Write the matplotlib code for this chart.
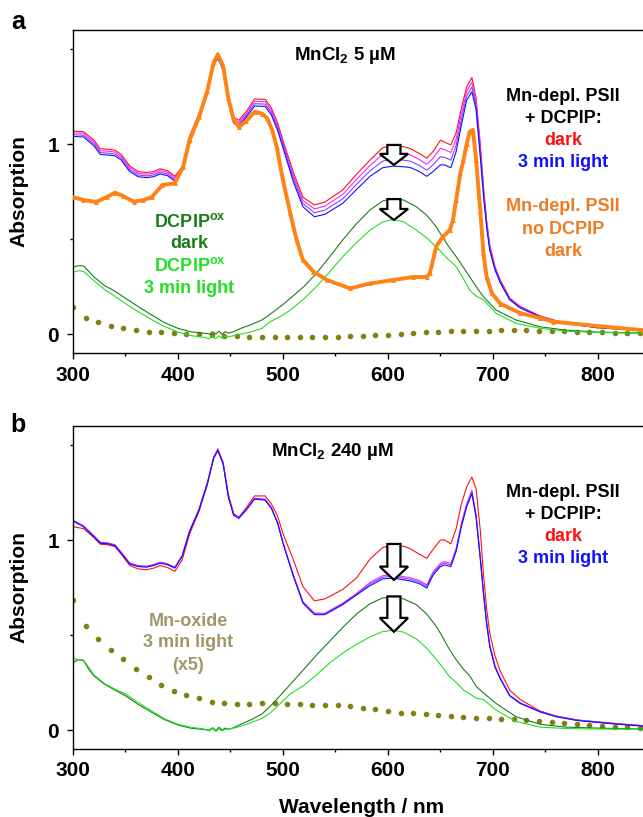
import numpy as np
import matplotlib
matplotlib.use("Agg")
import matplotlib.pyplot as plt
from matplotlib.patches import FancyArrow
from matplotlib.ticker import MultipleLocator

plt.rcParams['font.family'] = ['Liberation Sans', 'DejaVu Sans']
plt.rcParams['font.weight'] = 'bold'
plt.rcParams['axes.labelweight'] = 'bold'
plt.rcParams['mathtext.fontset'] = 'custom'
plt.rcParams['mathtext.rm'] = 'Liberation Sans:bold'
plt.rcParams['mathtext.bf'] = 'Liberation Sans:bold'
plt.rcParams['mathtext.it'] = 'Liberation Sans:bold:italic'

# ---- wavelength grids (nm) ----
wl_psii = [300, 310, 320, 326, 333, 340, 346, 354, 362, 370,
           377, 383, 390, 397, 404, 411, 420, 428, 434, 438,
           443, 448, 453, 458, 465, 473, 483, 489, 495, 500,
           510, 519, 530, 540, 557, 570, 583, 595, 605, 615,
           621, 630, 637, 643, 650, 654, 660, 665, 670, 675,
           680, 684, 688, 691, 694, 697, 702, 707, 716, 726,
           745, 760, 780, 800, 820, 843]

wl_green = [300, 305, 310, 315, 320, 330, 340, 350, 362, 375,
            387, 400, 412, 425, 430, 433, 436, 439, 442, 445,
            448, 452, 460, 470, 480, 488, 500, 507, 520, 532,
            545, 557, 570, 583, 595, 605, 615, 627, 637, 646,
            652, 658, 665, 672, 678, 684, 691, 703, 722, 745,
            770, 800, 843]

wl_nodcpip = [300, 310, 322, 332, 340, 348, 358, 367, 375, 385,
              397, 405, 411, 420, 428, 434, 438, 443, 448, 453,
              458, 465, 473, 480, 485, 490, 494, 500, 507, 513,
              519, 529, 542, 564, 583, 605, 624, 637, 640, 646,
              652, 659, 662, 665, 669, 672, 675, 678, 681, 684,
              688, 691, 694, 699, 707, 726, 745, 757, 800, 843]

wl_dots = np.arange(300, 841, 12)

# ---- panel a: MnCl2 5 uM ----
a_dark = [1.068, 1.065, 1.02, 0.975, 0.972, 0.968, 0.945, 0.885, 0.855, 0.85,
          0.855, 0.87, 0.86, 0.83, 0.88, 1.04, 1.16, 1.29, 1.44, 1.48,
          1.42, 1.25, 1.14, 1.125, 1.17, 1.237, 1.235, 1.19, 1.11, 1.02,
          0.85, 0.72, 0.679, 0.695, 0.758, 0.84, 0.916, 0.98, 0.995, 0.985,
          0.977, 0.95, 0.925, 0.96, 1.02, 1.01, 0.995, 1.06, 1.19, 1.30,
          1.35, 1.24, 1.0, 0.78, 0.6, 0.47, 0.355, 0.285, 0.19, 0.145,
          0.095, 0.07, 0.05, 0.035, 0.028, 0.02]
a_1min = [1.059, 1.056, 1.01, 0.965, 0.962, 0.958, 0.935, 0.875, 0.846, 0.841,
          0.846, 0.861, 0.851, 0.822, 0.872, 1.032, 1.152, 1.282, 1.432, 1.47,
          1.41, 1.24, 1.13, 1.115, 1.16, 1.225, 1.223, 1.177, 1.097, 1.007,
          0.833, 0.703, 0.658, 0.673, 0.735, 0.813, 0.887, 0.945, 0.958, 0.95,
          0.944, 0.918, 0.893, 0.925, 0.977, 0.97, 0.955, 1.027, 1.16, 1.277,
          1.325, 1.22, 0.977, 0.763, 0.588, 0.46, 0.349, 0.28, 0.187, 0.142,
          0.093, 0.069, 0.049, 0.034, 0.027, 0.019]
a_2min = [1.049, 1.046, 1.0, 0.955, 0.952, 0.948, 0.925, 0.865, 0.837, 0.832,
          0.837, 0.852, 0.842, 0.813, 0.863, 1.023, 1.143, 1.273, 1.423, 1.46,
          1.40, 1.23, 1.12, 1.105, 1.15, 1.212, 1.21, 1.165, 1.083, 0.993,
          0.817, 0.687, 0.638, 0.652, 0.711, 0.787, 0.859, 0.91, 0.921, 0.915,
          0.91, 0.887, 0.862, 0.89, 0.933, 0.93, 0.915, 0.993, 1.13, 1.253,
          1.30, 1.20, 0.953, 0.747, 0.577, 0.45, 0.343, 0.275, 0.183, 0.14,
          0.092, 0.067, 0.048, 0.034, 0.027, 0.019]
a_3min = [1.04, 1.037, 0.99, 0.945, 0.942, 0.938, 0.915, 0.855, 0.828, 0.823,
          0.828, 0.843, 0.833, 0.805, 0.855, 1.015, 1.135, 1.265, 1.415, 1.45,
          1.39, 1.22, 1.11, 1.095, 1.14, 1.2, 1.198, 1.152, 1.07, 0.98,
          0.80, 0.67, 0.617, 0.63, 0.688, 0.76, 0.83, 0.875, 0.884, 0.88,
          0.877, 0.855, 0.83, 0.855, 0.89, 0.89, 0.875, 0.96, 1.10, 1.23,
          1.275, 1.18, 0.93, 0.73, 0.565, 0.44, 0.337, 0.27, 0.18, 0.137,
          0.09, 0.066, 0.047, 0.033, 0.026, 0.018]
a_nodcpip = [0.72, 0.705, 0.695, 0.72, 0.744, 0.725, 0.696, 0.705, 0.72, 0.784,
             0.794, 0.88, 1.02, 1.14, 1.28, 1.43, 1.47, 1.41, 1.24, 1.13,
             1.09, 1.12, 1.17, 1.16, 1.135, 1.07, 0.986, 0.81, 0.635, 0.495,
             0.39, 0.328, 0.284, 0.24, 0.266, 0.284, 0.30, 0.30, 0.32, 0.46,
             0.51, 0.547, 0.60, 0.705, 0.847, 0.916, 1.0, 1.065, 1.074, 0.916,
             0.65, 0.425, 0.30, 0.215, 0.16, 0.11, 0.084, 0.065, 0.042, 0.02]
a_dcpip_dark = [0.351, 0.36, 0.358, 0.33, 0.30, 0.255, 0.225, 0.188, 0.145, 0.1,
                0.06, 0.03, 0.012, 0.004, 0.0, 0.012, 0.0, 0.015, -0.002, 0.012,
                0.005, 0.01, 0.03, 0.05, 0.074, 0.105, 0.155, 0.188, 0.25, 0.32,
                0.41, 0.495, 0.58, 0.653, 0.70, 0.714, 0.705, 0.67, 0.625, 0.565,
                0.51, 0.46, 0.407, 0.35, 0.30, 0.25, 0.196, 0.126, 0.074, 0.038,
                0.02, 0.01, 0.005]
a_dcpip_light = [0.325, 0.333, 0.33, 0.305, 0.28, 0.235, 0.198, 0.16, 0.118, 0.075,
                 0.04, 0.01, -0.008, -0.018, -0.025, -0.012, -0.025, -0.01, -0.022, -0.012,
                 -0.015, -0.01, 0.0, 0.012, 0.03, 0.065, 0.1, 0.126, 0.185, 0.25,
                 0.33, 0.407, 0.48, 0.547, 0.59, 0.603, 0.59, 0.547, 0.505, 0.46,
                 0.425, 0.39, 0.355, 0.29, 0.23, 0.2, 0.18, 0.109, 0.056, 0.03,
                 0.015, 0.008, 0.004]
a_dots = [0.14, 0.086, 0.062, 0.042, 0.031, 0.021, 0.012, 0.01, 0.005, 0.0,
          -0.002, -0.005, -0.008, -0.01, -0.014, -0.016, -0.017, -0.018, -0.018, -0.018,
          -0.017, -0.014, -0.012, -0.01, -0.006, -0.005, -0.002, 0.003, 0.008, 0.012,
          0.015, 0.016, 0.016, 0.018, 0.02, 0.021, 0.021, 0.018, 0.016, 0.014,
          0.012, 0.01, 0.008, 0.006, 0.004, 0.003]

# ---- panel b: MnCl2 240 uM ----
b_dark = [1.07, 1.06, 1.012, 0.978, 0.975, 0.965, 0.925, 0.866, 0.848, 0.843,
          0.852, 0.866, 0.855, 0.835, 0.895, 1.03, 1.15, 1.29, 1.435, 1.48,
          1.41, 1.24, 1.14, 1.12, 1.17, 1.232, 1.232, 1.19, 1.125, 1.034,
          0.895, 0.755, 0.68, 0.69, 0.74, 0.80, 0.90, 0.96, 0.975, 0.967,
          0.955, 0.925, 0.904, 0.95, 1.0, 1.0, 0.98, 1.06, 1.19, 1.279,
          1.331, 1.27, 1.05, 0.82, 0.64, 0.51, 0.39, 0.31, 0.21, 0.16,
          0.10, 0.074, 0.053, 0.04, 0.03, 0.023]
b_1min = [1.105, 1.075, 1.022, 0.988, 0.985, 0.975, 0.935, 0.879, 0.865, 0.862,
          0.871, 0.883, 0.875, 0.857, 0.918, 1.048, 1.162, 1.302, 1.435, 1.475,
          1.405, 1.232, 1.135, 1.119, 1.162, 1.22, 1.215, 1.171, 1.092, 0.988,
          0.816, 0.676, 0.615, 0.615, 0.668, 0.718, 0.777, 0.812, 0.817, 0.807,
          0.802, 0.787, 0.764, 0.832, 0.877, 0.886, 0.877, 0.957, 1.087, 1.191,
          1.261, 1.13, 0.91, 0.73, 0.57, 0.45, 0.34, 0.273, 0.183, 0.143,
          0.098, 0.073, 0.053, 0.043, 0.033, 0.023]
b_2min = [1.102, 1.072, 1.02, 0.986, 0.983, 0.973, 0.933, 0.877, 0.863, 0.86,
          0.869, 0.881, 0.873, 0.855, 0.916, 1.046, 1.16, 1.3, 1.433, 1.473,
          1.403, 1.23, 1.133, 1.117, 1.16, 1.218, 1.213, 1.169, 1.09, 0.986,
          0.812, 0.672, 0.611, 0.611, 0.664, 0.714, 0.769, 0.804, 0.809, 0.799,
          0.794, 0.779, 0.756, 0.824, 0.869, 0.878, 0.869, 0.949, 1.079, 1.183,
          1.253, 1.125, 0.905, 0.725, 0.565, 0.445, 0.335, 0.272, 0.182, 0.142,
          0.097, 0.072, 0.052, 0.042, 0.032, 0.022]
b_3min = [1.10, 1.07, 1.017, 0.983, 0.98, 0.97, 0.93, 0.874, 0.86, 0.857,
          0.866, 0.878, 0.87, 0.852, 0.913, 1.043, 1.157, 1.297, 1.43, 1.47,
          1.40, 1.227, 1.13, 1.114, 1.157, 1.215, 1.21, 1.166, 1.087, 0.983,
          0.808, 0.668, 0.607, 0.607, 0.66, 0.71, 0.76, 0.795, 0.80, 0.79,
          0.785, 0.77, 0.747, 0.815, 0.86, 0.869, 0.86, 0.94, 1.07, 1.174,
          1.244, 1.12, 0.90, 0.72, 0.56, 0.44, 0.33, 0.27, 0.18, 0.14,
          0.095, 0.07, 0.05, 0.04, 0.03, 0.02]
b_dcpip_dark = [0.354, 0.37, 0.365, 0.32, 0.284, 0.241, 0.21, 0.18, 0.135, 0.093,
                0.055, 0.026, 0.01, 0.002, 0.0, 0.012, -0.002, 0.014, 0.0, 0.01,
                0.004, 0.01, 0.03, 0.055, 0.084, 0.125, 0.197, 0.24, 0.32, 0.395,
                0.47, 0.54, 0.61, 0.665, 0.695, 0.70, 0.69, 0.66, 0.61, 0.546,
                0.49, 0.43, 0.37, 0.32, 0.285, 0.23, 0.195, 0.14, 0.07, 0.03,
                0.015, 0.01, 0.005]
b_dcpip_light = [0.375, 0.372, 0.368, 0.33, 0.29, 0.245, 0.215, 0.19, 0.145, 0.1,
                 0.06, 0.03, 0.015, 0.005, -0.005, 0.008, -0.008, 0.005, -0.005, 0.004,
                 0.006, 0.008, 0.02, 0.04, 0.061, 0.09, 0.153, 0.19, 0.235, 0.29,
                 0.355, 0.405, 0.45, 0.49, 0.518, 0.525, 0.515, 0.48, 0.43, 0.372,
                 0.33, 0.285, 0.25, 0.21, 0.19, 0.168, 0.16, 0.105, 0.045, 0.015,
                 0.008, 0.005, 0.004]
b_mnoxide = [0.686, 0.55, 0.48, 0.42, 0.372, 0.323, 0.279, 0.237, 0.206, 0.185,
             0.166, 0.15, 0.141, 0.139, 0.139, 0.14, 0.141, 0.139, 0.136, 0.134,
             0.133, 0.131, 0.124, 0.117, 0.11, 0.101, 0.092, 0.087, 0.082, 0.079,
             0.072, 0.066, 0.063, 0.061, 0.058, 0.056, 0.052, 0.049, 0.044, 0.037,
             0.031, 0.026, 0.023, 0.017, 0.014, 0.009]

RED, MAG, PUR, BLUE = '#ff1010', '#ff22ff', '#8844ff', '#1010ff'
DKGREEN, LTGREEN = '#1a7d1a', '#22e022'
ORANGE, OLIVE, KHAKI = '#ff8214', '#857f12', '#a0966a'
ORANGE_TXT = '#f07a22'

fig = plt.figure(figsize=(6.43, 8.17), dpi=100)
ax_a = fig.add_axes([73 / 643, 1 - 353 / 817, 570 / 643, 323 / 817])
ax_b = fig.add_axes([73 / 643, 1 - 749 / 817, 570 / 643, 323 / 817])


def style_axes(ax):
    ax.set_xlim(300, 843)
    ax.set_ylim(-0.1, 1.6)
    ax.xaxis.set_major_locator(MultipleLocator(100))
    ax.xaxis.set_minor_locator(MultipleLocator(50))
    ax.yaxis.set_major_locator(MultipleLocator(1))
    ax.yaxis.set_minor_locator(MultipleLocator(0.5))
    ax.spines['right'].set_visible(False)
    for s in ['left', 'bottom', 'top']:
        ax.spines[s].set_linewidth(1.0)
    ax.tick_params(which='major', direction='out', length=4, width=1.0,
                   labelsize=15, pad=5)
    ax.tick_params(which='minor', direction='out', length=2.5, width=1.0)
    ax.tick_params(axis='y', which='major', pad=6)
    ax.tick_params(top=False, right=False, which='both')
    ax.set_ylabel('Absorption', fontsize=15)
    ax.yaxis.set_label_coords(-0.078, 0.5)


def draw_psii(ax, dark, m1, m2, m3):
    ax.plot(wl_psii, dark, color=RED, lw=0.8)
    ax.plot(wl_psii, m1, color=MAG, lw=0.8)
    ax.plot(wl_psii, m2, color=PUR, lw=0.8)
    ax.plot(wl_psii, m3, color=BLUE, lw=0.8)


def down_arrow(ax, x, top, tip, head_len):
    ax.add_patch(FancyArrow(x, top, 0, tip - top, width=12.5, head_width=27,
                            head_length=head_len, length_includes_head=True,
                            fc='white', ec='black', lw=1.6, zorder=6))


def psii_legend(ax):
    x = 767
    ax.text(x, 1.249, 'Mn-depl. PSII', ha='center', va='center', fontsize=13)
    ax.text(x, 1.135, '+ DCPIP:', ha='center', va='center', fontsize=13)
    ax.text(x, 1.02, 'dark', ha='center', va='center', fontsize=13, color=RED)
    ax.text(x, 0.905, '3 min light', ha='center', va='center', fontsize=13, color=BLUE)


# ---- panel a ----
style_axes(ax_a)
ax_a.plot(wl_dots, a_dots, 'o', color=OLIVE, ms=4.0, mec='none')
ax_a.plot(wl_green, a_dcpip_dark, color=DKGREEN, lw=0.8)
ax_a.plot(wl_green, a_dcpip_light, color=LTGREEN, lw=0.8)
draw_psii(ax_a, a_dark, a_1min, a_2min, a_3min)
ax_a.plot(wl_nodcpip, a_nodcpip, color=ORANGE, lw=2.8, marker='^', ms=3.5,
          mec='none', zorder=4)
down_arrow(ax_a, 605.7, 0.995, 0.89, 0.058)
down_arrow(ax_a, 605.7, 0.71, 0.60, 0.058)
ax_a.text(559, 1.468, r'MnCl$_2$ 5 µM', ha='center', va='center', fontsize=13.5)
psii_legend(ax_a)
ax_a.text(767, 0.67, 'Mn-depl. PSII', ha='center', va='center', fontsize=13, color=ORANGE_TXT)
ax_a.text(767, 0.55, 'no DCPIP', ha='center', va='center', fontsize=13, color=ORANGE_TXT)
ax_a.text(767, 0.433, 'dark', ha='center', va='center', fontsize=13, color=ORANGE_TXT)
ax_a.text(411, 0.59, r'DCPIP$^{\mathrm{ox}}$', ha='center', va='center', fontsize=13, color=DKGREEN)
ax_a.text(411, 0.477, 'dark', ha='center', va='center', fontsize=13, color=DKGREEN)
ax_a.text(411, 0.358, r'DCPIP$^{\mathrm{ox}}$', ha='center', va='center', fontsize=13, color=LTGREEN)
ax_a.text(411, 0.24, '3 min light', ha='center', va='center', fontsize=13, color=LTGREEN)

# ---- panel b ----
style_axes(ax_b)
ax_b.plot(wl_dots, b_mnoxide, 'o', color=OLIVE, ms=4.0, mec='none')
ax_b.plot(wl_green, b_dcpip_dark, color=DKGREEN, lw=0.8)
ax_b.plot(wl_green, b_dcpip_light, color=LTGREEN, lw=0.8)
draw_psii(ax_b, b_dark, b_1min, b_2min, b_3min)
down_arrow(ax_b, 605.7, 0.979, 0.79, 0.07)
down_arrow(ax_b, 605.7, 0.703, 0.517, 0.073)
ax_b.text(547, 1.468, r'MnCl$_2$ 240 µM', ha='center', va='center', fontsize=13.5)
psii_legend(ax_b)
ax_b.text(410, 0.572, 'Mn-oxide', ha='center', va='center', fontsize=13, color=KHAKI)
ax_b.text(410, 0.459, '3 min light', ha='center', va='center', fontsize=13, color=KHAKI)
ax_b.text(410, 0.342, '(x5)', ha='center', va='center', fontsize=13, color=KHAKI)
ax_b.set_xlabel('Wavelength / nm', fontsize=15)
ax_b.xaxis.set_label_coords(0.506, -0.152)

fig.text(18 / 643, 1 - 22 / 817, 'a', ha='center', va='center', fontsize=18)
fig.text(18 / 643, 1 - 425 / 817, 'b', ha='center', va='center', fontsize=18)

fig.savefig('out.png', dpi=100)
